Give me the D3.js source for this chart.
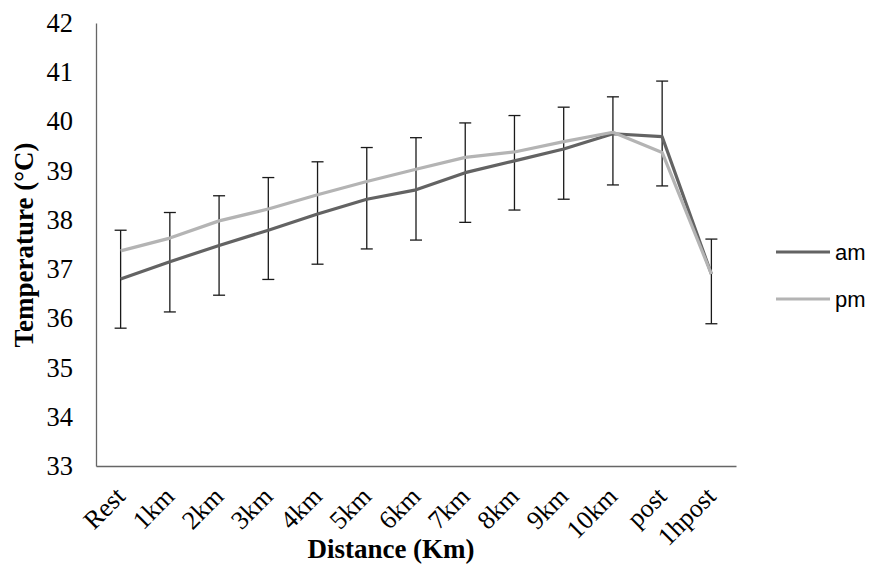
<!DOCTYPE html>
<html>
<head>
<meta charset="utf-8">
<script src="https://cdn.jsdelivr.net/npm/d3@7"></script>
<style>
  body { margin: 0; background: #fff; }
  svg { display: block; }
</style>
</head>
<body>
<div class="main"></div>
<script>
let categories = ['Rest', '1km', '2km', '3km', '4km', '5km', '6km', '7km', '8km', '9km', '10km', 'post', '1hpost'];
let amValues = [36.80, 37.15, 37.48, 37.79, 38.12, 38.42, 38.61, 38.96, 39.20, 39.44, 39.75, 39.69, 36.90];
let pmValues = [37.37, 37.63, 37.98, 38.22, 38.51, 38.78, 39.03, 39.27, 39.38, 39.59, 39.78, 39.37, 36.90];
// upper whisker hangs off pm, lower whisker off am
let pmErrUp = [0.42, 0.52, 0.51, 0.64, 0.67, 0.69, 0.64, 0.70, 0.74, 0.70, 0.72, 1.45, 0.71];
let amErrDown = [1.00, 1.02, 1.01, 1.00, 1.02, 1.01, 1.02, 1.01, 1.00, 1.02, 1.04, 1.00, 1.01];
let yTicks = [33, 34, 35, 36, 37, 38, 39, 40, 41, 42];

let opts = {
  width: 871,
  height: 565,
  left: 96,
  right: 736,
  top: 23,
  bottom: 466
};

let serif = '"Liberation Serif", "Times New Roman", serif';

let svg = d3.select('.main').append('svg')
  .attr('width', opts.width)
  .attr('height', opts.height);

let x = d3.scaleBand().domain(categories).range([opts.left, opts.right]);
let y = d3.scaleLinear().domain([33, 42]).range([opts.bottom, opts.top]);
let cx = d => x(d) + x.bandwidth() / 2;

// axes
let yAxis = svg.append('g')
  .attr('transform', `translate(${opts.left},0)`)
  .call(d3.axisLeft(y).tickValues(yTicks).tickSize(0).tickPadding(23).tickFormat(d3.format('d')));
yAxis.select('.domain').attr('stroke', '#666').attr('stroke-width', 1.3);
yAxis.selectAll('text')
  .attr('font-family', serif)
  .attr('font-size', 26.5)
  .attr('fill', '#000');

let xAxis = svg.append('g')
  .attr('transform', `translate(0,${opts.bottom})`)
  .call(d3.axisBottom(x).tickSize(0).tickFormat(''));
xAxis.select('.domain').attr('stroke', '#666').attr('stroke-width', 1.3);

svg.append('g').selectAll('text')
  .data(categories).enter().append('text')
  .attr('transform', d => `translate(${cx(d) + 6},${opts.bottom + 32}) rotate(-45)`)
  .attr('text-anchor', 'end')
  .attr('font-family', serif)
  .attr('font-size', 26)
  .text(d => d);

// axis titles
svg.append('text')
  .attr('x', 391)
  .attr('y', 558)
  .attr('text-anchor', 'middle')
  .attr('font-family', serif)
  .attr('font-weight', 'bold')
  .attr('font-size', 27)
  .text('Distance (Km)');

svg.append('text')
  .attr('transform', 'translate(33,245) rotate(-90)')
  .attr('text-anchor', 'middle')
  .attr('font-family', serif)
  .attr('font-weight', 'bold')
  .attr('font-size', 27)
  .text('Temperature (°C)');

// error bars
let bars = svg.append('g').attr('stroke', '#1a1a1a').attr('stroke-width', 1.3);
categories.forEach((c, i) => {
  let top = y(pmValues[i] + pmErrUp[i]);
  let bot = y(amValues[i] - amErrDown[i]);
  bars.append('line').attr('x1', cx(c)).attr('x2', cx(c)).attr('y1', top).attr('y2', bot);
  bars.append('line').attr('x1', cx(c) - 6).attr('x2', cx(c) + 6).attr('y1', top).attr('y2', top);
  bars.append('line').attr('x1', cx(c) - 6).attr('x2', cx(c) + 6).attr('y1', bot).attr('y2', bot);
});

// lines
let series = [
  { name: 'am', values: amValues, color: '#636363' },
  { name: 'pm', values: pmValues, color: '#b4b4b4' }
];

let line = d3.line()
  .x((d, i) => cx(categories[i]))
  .y(d => y(d));

svg.append('g').selectAll('path')
  .data(series).enter().append('path')
  .attr('d', d => line(d.values))
  .attr('fill', 'none')
  .attr('stroke', d => d.color)
  .attr('stroke-width', 3.2)
  .attr('stroke-linejoin', 'round');

// legend
let legend = svg.append('g').selectAll('g')
  .data(series).enter().append('g')
  .attr('transform', (d, i) => `translate(776,${252 + i * 47})`);
legend.append('line')
  .attr('x1', 0).attr('x2', 54)
  .attr('stroke', d => d.color)
  .attr('stroke-width', 3.2);
legend.append('text')
  .attr('x', 59)
  .attr('y', 8)
  .attr('font-family', '"Liberation Sans", Arial, sans-serif')
  .attr('font-size', 22)
  .text(d => d.name);
</script>
</body>
</html>
